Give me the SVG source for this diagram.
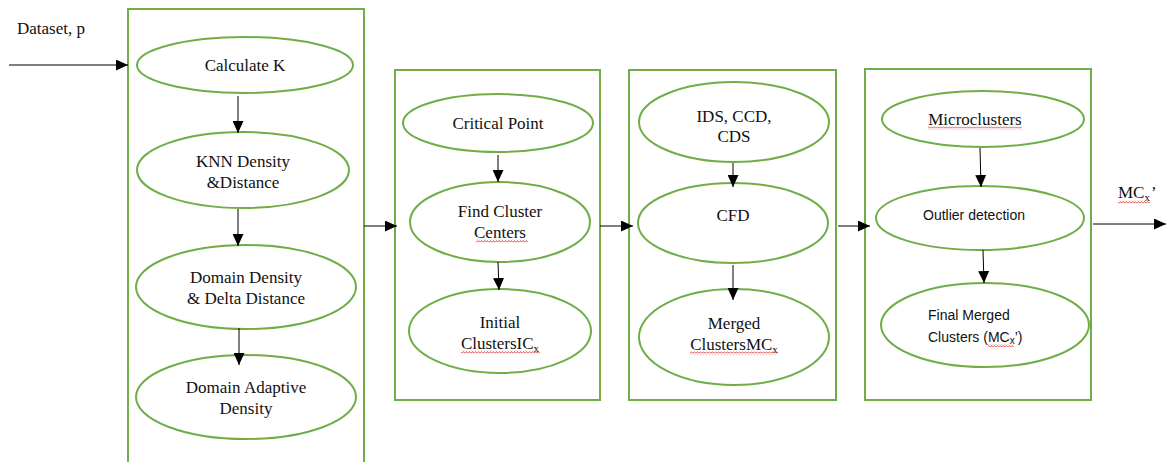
<svg xmlns="http://www.w3.org/2000/svg" width="1166" height="462" viewBox="0 0 1166 462">
<style>
.box{fill:none;stroke:#70AD47;stroke-width:2}
.node{fill:#fff;stroke:#70AD47;stroke-width:2}
.serif{font-family:"Liberation Serif","Times New Roman",serif;font-size:17px;fill:#111}
.sans{font-family:"Liberation Sans",Arial,sans-serif;font-size:14px;fill:#111}
.c{text-anchor:middle}
.conn{stroke:#000;stroke-width:1;fill:none;marker-end:url(#ah)}
.squig{fill:url(#sq)}
</style>
<defs>
<marker id="ah" markerUnits="userSpaceOnUse" markerWidth="12" markerHeight="11" refX="12" refY="5.5" orient="auto">
<path d="M0,0 L12,5.5 L0,11 z" fill="#000"/>
</marker>
<pattern id="sq" patternUnits="userSpaceOnUse" width="3" height="3">
<path d="M0,2.5 L1.5,0.5 L3,2.5" fill="none" stroke="#e03030" stroke-width="0.8"/>
</pattern>
</defs>
<rect width="1166" height="462" fill="#fff"/>

<g id="input-label"><text class="serif" x="17" y="34">Dataset, p</text></g>

<g id="stage1"><rect class="box" x="128" y="9" width="236" height="460"/></g>
<g id="stage2"><rect class="box" x="395" y="70" width="205" height="330"/></g>
<g id="stage3"><rect class="box" x="629" y="70" width="207" height="330"/></g>
<g id="stage4"><rect class="box" x="865" y="69" width="226" height="331"/></g>

<g id="calc-k"><ellipse class="node" cx="245" cy="65" rx="108" ry="28"/><text class="serif c" x="245" y="71">Calculate K</text></g>
<g id="knn"><ellipse class="node" cx="243" cy="170" rx="106" ry="38"/><text class="serif c" x="243" y="167">KNN Density</text><text class="serif c" x="243" y="188">&amp;Distance</text></g>
<g id="domain-density"><ellipse class="node" cx="246" cy="287" rx="110" ry="42"/><text class="serif c" x="246" y="283">Domain Density</text><text class="serif c" x="246" y="304">&amp; Delta Distance</text></g>
<g id="domain-adaptive"><ellipse class="node" cx="246" cy="397" rx="110" ry="42"/><text class="serif c" x="246" y="393">Domain Adaptive</text><text class="serif c" x="246" y="414">Density</text></g>

<g id="critical"><ellipse class="node" cx="498" cy="123" rx="95" ry="29"/><text class="serif c" x="498" y="129">Critical Point</text></g>
<g id="find-centers"><ellipse class="node" cx="500" cy="222" rx="90" ry="40"/><text class="serif c" x="500" y="217">Find Cluster</text><text class="serif c" x="500" y="238">Centers</text><rect class="squig" x="476" y="239.5" width="52" height="3"/></g>
<g id="initial"><ellipse class="node" cx="500" cy="331" rx="91" ry="42"/><text class="serif c" x="500" y="328">Initial</text><text class="serif c" x="500" y="349">ClustersIC<tspan font-size="11" dy="3">x</tspan></text><rect class="squig" x="461" y="350.5" width="79" height="3"/></g>

<g id="ids"><ellipse class="node" cx="734" cy="122" rx="95" ry="40"/><text class="serif c" x="734" y="122">IDS, CCD,</text><text class="serif c" x="734" y="142">CDS</text></g>
<g id="cfd"><ellipse class="node" cx="733" cy="223" rx="95" ry="40"/><text class="serif c" x="733" y="221">CFD</text></g>
<g id="merged"><ellipse class="node" cx="734" cy="337" rx="95" ry="48"/><text class="serif c" x="734" y="329">Merged</text><text class="serif c" x="734" y="350">ClustersMC<tspan font-size="11" dy="3">x</tspan></text><rect class="squig" x="690" y="351.5" width="88" height="3"/></g>

<g id="microclusters"><ellipse class="node" cx="983" cy="119" rx="101" ry="28"/><text class="serif c" x="975" y="125">Microclusters</text><rect class="squig" x="928" y="126.5" width="94" height="3"/></g>
<g id="outlier"><ellipse class="node" cx="980" cy="218" rx="104" ry="32"/><text class="sans c" x="974" y="220">Outlier detection</text></g>
<g id="final"><ellipse class="node" cx="985" cy="325" rx="104" ry="42"/><text class="sans" x="928" y="320">Final Merged</text><text class="sans" x="928" y="342">Clusters (MC<tspan font-size="10" dy="2">x</tspan><tspan dy="-2">’)</tspan></text><rect class="squig" x="988" y="344" width="26" height="3"/></g>

<g id="output-label"><text class="serif" x="1118" y="198">MC<tspan font-size="11" dy="3">x</tspan><tspan dy="-3" dx="1">’</tspan></text><rect class="squig" x="1118" y="200.5" width="32" height="3"/></g>

<g id="connectors">
<line class="conn" x1="9" y1="65" x2="128" y2="65"/>
<line class="conn" x1="238" y1="96" x2="238" y2="133"/>
<line class="conn" x1="238" y1="209" x2="238" y2="246"/>
<line class="conn" x1="239" y1="328" x2="239" y2="365"/>
<line class="conn" x1="498" y1="155" x2="498" y2="182"/>
<line class="conn" x1="498" y1="262" x2="499" y2="290"/>
<line class="conn" x1="733" y1="163" x2="733" y2="187"/>
<line class="conn" x1="733" y1="265" x2="733" y2="300"/>
<line class="conn" x1="980" y1="148" x2="981" y2="187"/>
<line class="conn" x1="983" y1="250" x2="984" y2="283"/>
<line class="conn" x1="364" y1="226" x2="397" y2="226"/>
<line class="conn" x1="600" y1="226" x2="633" y2="226"/>
<line class="conn" x1="838" y1="226" x2="870" y2="226"/>
<line class="conn" x1="1093" y1="224" x2="1166" y2="224"/>
</g>
</svg>
